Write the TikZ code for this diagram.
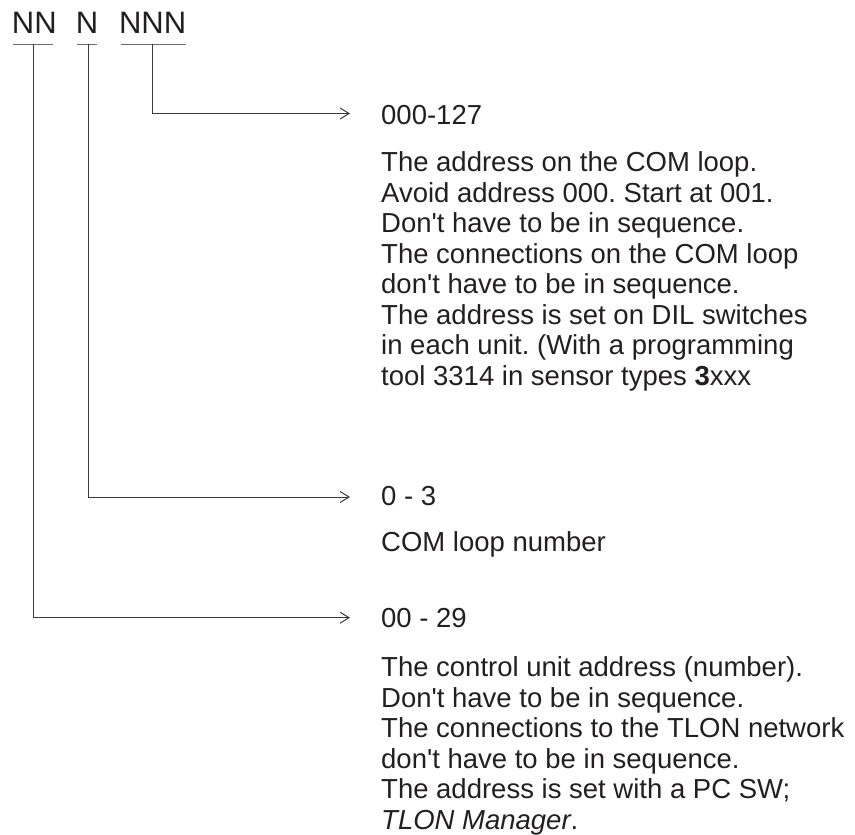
\documentclass[tikz,border=0pt]{standalone}
\usepackage{fontspec}
\setmainfont{Liberation Sans}
\usetikzlibrary{arrows.meta}
\definecolor{ink}{HTML}{231F20}
\definecolor{rulec}{HTML}{3A3A3A}
\newcommand{\aq}{\textquotesingle}
\frenchspacing
\begin{document}
\begin{tikzpicture}[x=1pt,y=-1pt,
  title/.style={anchor=base west, inner sep=0pt, font=\fontsize{31}{31}\selectfont, text=ink},
  lbl/.style={anchor=base west, inner sep=0pt, font=\fontsize{27.5}{30.5}\selectfont\frenchspacing, text=ink},
  conn/.style={draw=rulec, line width=1pt, -{Straight Barb[length=9pt,width=11pt,line width=1pt]}},
  uline/.style={draw=rulec!75, line width=1.1pt}]
\useasboundingbox (0,0) rectangle (855,835);
% title
\node[title] (tNN)  at (11.7,33.3) {NN};
\node[title] (tN)   at (75.7,33.3) {N};
\node[title] (tNNN) at (118.8,33.3) {NNN};
% underlines
\draw[uline] (13,44.3) -- (53,44.3);
\draw[uline] (77,44.3) -- (97,44.3);
\draw[uline] (121,44.3) -- (186,44.3);
\coordinate (uNN)  at (33.5,44.3);
\coordinate (uN)   at (88,44.3);
\coordinate (uNNN) at (152,44.3);
% arrow tips
\coordinate (a1) at (350,113.5);
\coordinate (a2) at (350,497);
\coordinate (a3) at (350,617.7);
% labels
\node[lbl] (n1) at (381,124.5) {000-127};
\node[lbl] (d1) at (381,171.7) {\vtop{%
  \hbox{The address on the COM loop.}
  \hbox{Avoid address 000. Start at 001.}
  \hbox{Don\aq t have to be in sequence.}
  \hbox{The connections on the COM loop}
  \hbox{don\aq t have to be in sequence.}
  \hbox{The address is set on DIL switches}
  \hbox{in each unit. (With a programming}
  \hbox{tool 3314 in sensor types \textbf{3}xxx}}};
\node[lbl] (n2) at (381,505.5) {0 - 3};
\node[lbl] (d2) at (381,551.7) {COM loop number};
\node[lbl] (n3) at (381,627) {00 - 29};
\node[lbl] (d3) at (381,676.7) {\vtop{%
  \hbox{The control unit address (number).}
  \hbox{Don\aq t have to be in sequence.}
  \hbox{The connections to the TLON network}
  \hbox{don\aq t have to be in sequence.}
  \hbox{The address is set with a PC SW;}
  \hbox{\textit{TLON Manager}.}}};
% connectors
\draw[conn] (uNNN) |- (a1);
\draw[conn] (uN) |- (a2);
\draw[conn] (uNN) |- (a3);
\end{tikzpicture}
\end{document}
